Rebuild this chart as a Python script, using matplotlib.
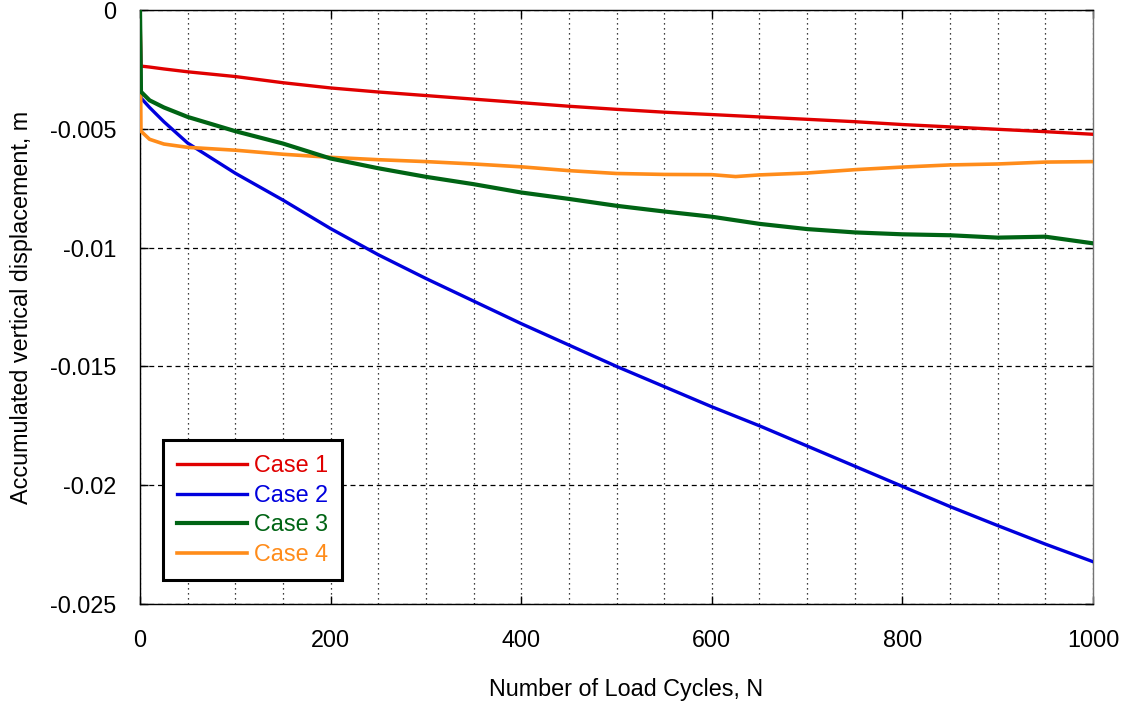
import matplotlib
matplotlib.use("Agg")
import matplotlib.pyplot as plt
import numpy as np

plt.rcParams['font.family'] = ['Liberation Sans', 'DejaVu Sans']

# load cycles and accumulated vertical displacement (m)
N = [0, 1, 10, 25, 50, 100, 150, 200, 250, 300, 350, 400, 450, 500, 550,
     600, 625, 650, 700, 750, 800, 850, 900, 950, 1000]

case1 = [0, -0.00236, -0.00240, -0.00248, -0.00260, -0.00280, -0.00306,
         -0.00328, -0.00345, -0.00360, -0.00375, -0.00390, -0.00405,
         -0.00418, -0.00430, -0.00440, -0.00445, -0.00450, -0.00460,
         -0.00470, -0.00482, -0.00492, -0.00502, -0.00512, -0.00523]

case2 = [0, -0.00370, -0.00410, -0.00470, -0.00560, -0.00687, -0.00800,
         -0.00920, -0.01030, -0.01130, -0.01225, -0.01320, -0.01410,
         -0.01500, -0.01585, -0.01670, -0.01710, -0.01750, -0.01835,
         -0.01920, -0.02005, -0.02090, -0.02170, -0.02248, -0.02322]

case3 = [0, -0.00344, -0.00380, -0.00410, -0.00450, -0.00510, -0.00562,
         -0.00625, -0.00666, -0.00702, -0.00733, -0.00768, -0.00795,
         -0.00824, -0.00848, -0.00870, -0.00885, -0.00900, -0.00922,
         -0.00936, -0.00944, -0.00948, -0.00958, -0.00954, -0.00982]

case4 = [0, -0.00510, -0.00544, -0.00564, -0.00578, -0.00590, -0.00607,
         -0.00620, -0.00630, -0.00638, -0.00648, -0.00660, -0.00676,
         -0.00688, -0.00692, -0.00693, -0.00701, -0.00694, -0.00686,
         -0.00672, -0.00661, -0.00652, -0.00648, -0.00640, -0.00638]

labels = ["Case 1", "Case 2", "Case 3", "Case 4"]
colors = ["#e00000", "#0000dd", "#006414", "#ff8c1a"]
widths = [2.4, 2.4, 3.0, 2.6]
orders = [3, 3, 5, 4]

xticks = [0, 200, 400, 600, 800, 1000]
yticks = [0, -0.005, -0.01, -0.015, -0.02, -0.025]
ytick_labels = ["0", "-0.005", "-0.01", "-0.015", "-0.02", "-0.025"]

fig = plt.figure(figsize=(11.31, 7.06), dpi=100)
ax = fig.add_axes([0.1238, 0.1445, 0.8426, 0.8413])

for y, lab, c, lw, z in zip([case1, case2, case3, case4], labels, colors, widths, orders):
    ax.plot(N, y, color=c, lw=lw, label=lab, zorder=z)

ax.set_xlim(0, 1000)
ax.set_ylim(-0.025, 0)
ax.set_xticks(xticks)
ax.set_xticks(np.arange(0, 1001, 50), minor=True)
ax.set_yticks(yticks)
ax.set_yticklabels(ytick_labels)

ax.xaxis.grid(True, which='both', color='k', ls=(0, (1, 3)), lw=0.9)
ax.yaxis.grid(True, which='major', color='k', ls=(0, (4, 3)), lw=0.9)
ax.set_axisbelow(True)

ax.tick_params(which='major', direction='in', top=True, right=True,
               length=6, width=1, labelsize=16.8)
ax.tick_params(axis='x', pad=18)
ax.tick_params(axis='y', pad=17)
ax.tick_params(which='minor', length=0)
for s in ax.spines.values():
    s.set_linewidth(1.0)
ax.spines['right'].set_color('0.45')

ax.set_xlabel("Number of Load Cycles, N", fontsize=16.8)
ax.set_ylabel("Accumulated vertical displacement, m", fontsize=16.8)
ax.xaxis.set_label_coords(0.5105, -0.1246)
ax.yaxis.set_label_coords(-0.112, 0.5)

leg = ax.legend(loc='lower left', bbox_to_anchor=(0.0238, 0.0404),
                borderaxespad=0, fancybox=False, framealpha=1,
                edgecolor='k', fontsize=16.8, handlelength=3.0,
                handletextpad=0.3, labelspacing=0.28, borderpad=0.6)
leg.get_frame().set_linewidth(2.2)
for t, c in zip(leg.get_texts(), colors):
    t.set_color(c)
leg.set_zorder(10)

fig.savefig("out.png", dpi=100)
